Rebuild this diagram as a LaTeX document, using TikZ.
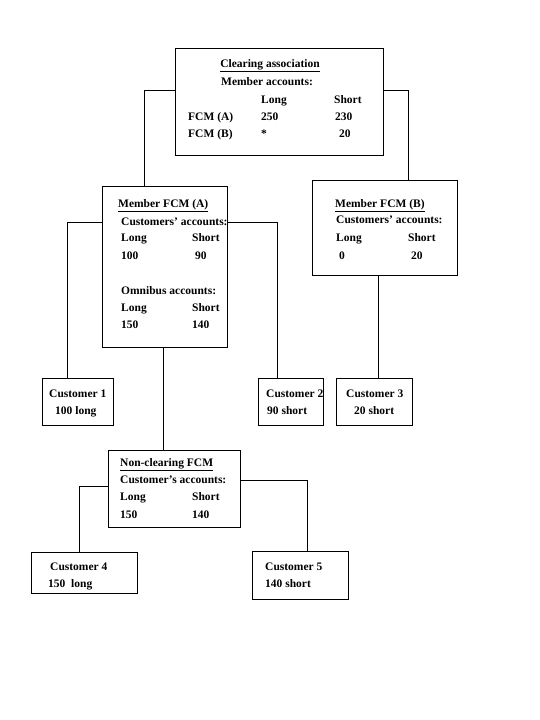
\documentclass[tikz,border=0pt]{standalone}
\usepackage{fontspec}
\setmainfont{Liberation Serif}
\begin{document}
\begin{tikzpicture}[x=1pt,y=-1pt,
  box/.style={draw=black,line width=0.8pt,rectangle,inner sep=0pt,anchor=north west},
  txt/.style={inner sep=0pt,anchor=west,text height=8pt,text depth=2.5pt,yshift=-1.5pt,font=\bfseries\fontsize{11.5}{13}\selectfont},
  conn/.style={draw=black,line width=0.8pt}]
\useasboundingbox[fill=white] (0,0) rectangle (540,720);
% boxes
\node[box,minimum width=208pt,minimum height=107pt] (ca) at (175,48) {};
\node[box,minimum width=125pt,minimum height=161pt] (ma) at (102,186) {};
\node[box,minimum width=145pt,minimum height=95pt] (mb) at (312,180) {};
\node[box,minimum width=71pt,minimum height=47pt] (c1) at (42,378) {};
\node[box,minimum width=65pt,minimum height=47pt] (c2) at (258,378) {};
\node[box,minimum width=76pt,minimum height=47pt] (c3) at (336,378) {};
\node[box,minimum width=132pt,minimum height=77pt] (nc) at (108,450) {};
\node[box,minimum width=106pt,minimum height=41pt] (c4) at (31,552) {};
\node[box,minimum width=96pt,minimum height=48pt] (c5) at (252,551) {};
% connectors
\draw[conn] ([yshift=11.5pt]ca.west) -| ([xshift=-20.5pt]ma.north);
\draw[conn] ([yshift=11.5pt]ca.east) -| ([xshift=23.5pt]mb.north);
\draw[conn] ([yshift=44.5pt]ma.west) -| ([xshift=-10.5pt]c1.north);
\draw[conn] ([yshift=44.5pt]ma.east) -| ([xshift=-13.5pt]c2.north);
\draw[conn] ([xshift=-1.5pt]ma.south) -- ([xshift=-1.5pt]ma.south |- nc.north);
\draw[conn] ([xshift=-6.5pt]mb.south) -- ([xshift=-6.5pt]mb.south |- c3.north);
\draw[conn] ([yshift=2.5pt]nc.west) -| ([xshift=-5pt]c4.north);
\draw[conn] ([yshift=8.5pt]nc.east) -| ([xshift=7pt]c5.north);
% clearing association
\node[txt,anchor=center] (t1) at (270,63) {\underline{Clearing association}};
\node[txt] (t2) at (221,81) {Member accounts:};
\node[txt] (t3) at (261,99) {Long};
\node[txt] (t4) at (334,99) {Short};
\node[txt] (t5) at (188,116) {FCM (A)};
\node[txt] (t6) at (261,116) {250};
\node[txt] (t7) at (335,116) {230};
\node[txt] (t8) at (188,133) {FCM (B)};
\node[txt] (t9) at (261,133) {*};
\node[txt] (t10) at (339,133) {20};
% member A
\node[txt] (a1) at (118,203) {\underline{Member FCM (A)}};
\node[txt] (a2) at (121,221) {Customers’ accounts:};
\node[txt] (a3) at (121,237) {Long};
\node[txt] (a4) at (192,237) {Short};
\node[txt] (a5) at (121,255) {100};
\node[txt] (a6) at (195,255) {90};
\node[txt] (a7) at (121,290) {Omnibus accounts:};
\node[txt] (a8) at (121,307) {Long};
\node[txt] (a9) at (192,307) {Short};
\node[txt] (a10) at (121,324) {150};
\node[txt] (a11) at (192,324) {140};
% member B
\node[txt] (b1) at (335,203) {\underline{Member FCM (B)}};
\node[txt] (b2) at (336,219) {Customers’ accounts:};
\node[txt] (b3) at (336,237) {Long};
\node[txt] (b4) at (408,237) {Short};
\node[txt] (b5) at (339,255) {0};
\node[txt] (b6) at (411,255) {20};
% customers 1-3
\node[txt] (u1) at (49,393) {Customer 1};
\node[txt] (u2) at (55,410) {100 long};
\node[txt] (u3) at (266,393) {Customer 2};
\node[txt] (u4) at (267,410) {90 short};
\node[txt] (u5) at (346,393) {Customer 3};
\node[txt] (u6) at (354,410) {20 short};
% non-clearing
\node[txt] (n1) at (120,462) {\underline{Non-clearing FCM}};
\node[txt] (n2) at (120,479) {Customer’s accounts:};
\node[txt] (n3) at (120,496) {Long};
\node[txt] (n4) at (192,496) {Short};
\node[txt] (n5) at (120,514) {150};
\node[txt] (n6) at (192,514) {140};
% customers 4-5
\node[txt] (v1) at (50,566) {Customer 4};
\node[txt] (v2) at (48,583) {150\enspace long};
\node[txt] (v3) at (265,566) {Customer 5};
\node[txt] (v4) at (265,583) {140 short};
\end{tikzpicture}
\end{document}
